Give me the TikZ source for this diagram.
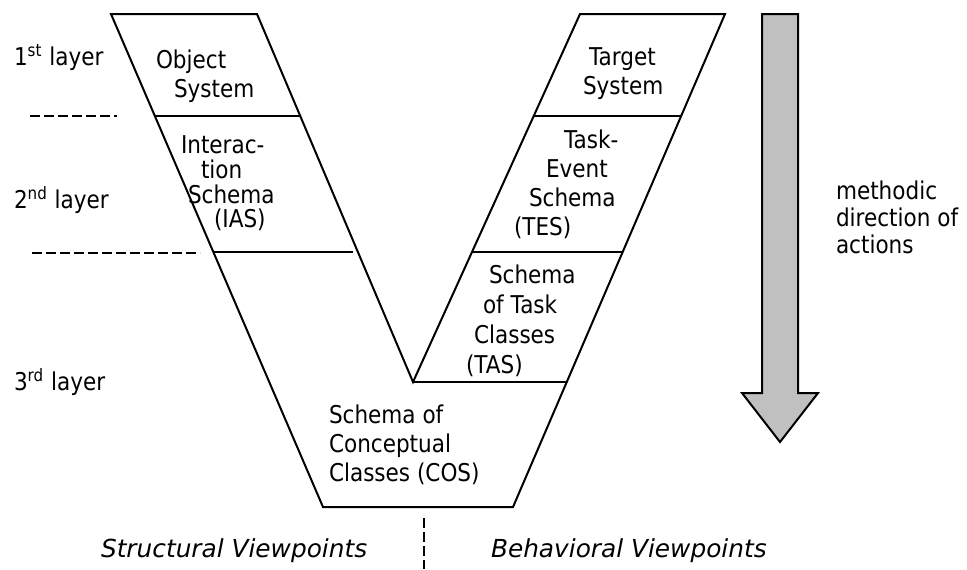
\documentclass[tikz,border=0pt]{standalone}
\usepackage{fontspec}
\setmainfont{DejaVu Sans}[FakeStretch=0.88]
\newfontfamily\viewfont{DejaVu Sans}
\definecolor{arrowfill}{HTML}{C0C0C0}

\begin{document}
\begin{tikzpicture}[x=0.5pt,y=-0.5pt,line width=1pt,
    lbl/.style={anchor=north west,inner sep=0pt,align=left,
        font=\fontsize{12.25}{14.5}\selectfont},
    layer/.style={anchor=base west,inner sep=0pt,font=\fontsize{12.25}{14.5}\selectfont},
    sep/.style={line width=0.9pt,dash pattern=on 5pt off 2pt},
    view/.style={anchor=west,inner sep=0pt,font=\viewfont\itshape\fontsize{12.4}{14}\selectfont}]
        \useasboundingbox (0,0) rectangle (967,569);

        % the V
        \draw (111,14) -- (257,14) -- (413,382) -- (580,14) -- (725,14)
              -- (513,507) -- (323,507) -- cycle;
        \draw (155,116) -- (300,116);
        \draw (213,252) -- (353,252);
        \draw (534,116) -- (681,116);
        \draw (472,252) -- (623,252);
        \draw (413,382) -- (567,382);

        % layers
        \draw[sep] (30,116) -- (117,116);
        \draw[sep] (32,253) -- (200,253);
        \path
        (13,65) node[layer](lay1) {1\textsuperscript{st} layer}
        (13,208) node[layer](lay2) {2\textsuperscript{nd} layer}
        (13,390) node[layer](lay3) {3\textsuperscript{rd} layer}

        % left
        (155,49) node[lbl](objsys) {Object\\\hspace*{9pt}System}
        (180,135) node[lbl,font=\fontsize{12.25}{12.35}\selectfont](ias)
            {Interac-\\\hspace*{10pt}tion\\\hspace*{3.5pt}Schema\\\hspace*{16.5pt}(IAS)}

        % right
        (582,47) node[lbl](tarsys) {\hspace*{3pt}Target\\System}
        (513,129) node[lbl](tes)
            {\hspace*{25pt}Task-\\\hspace*{16pt}Event\\\hspace*{7.5pt}Schema\\(TES)}
        (465,264) node[lbl,font=\fontsize{12.25}{15}\selectfont](tas)
            {\hspace*{11.5pt}Schema\\\hspace*{8.5pt}of Task\\\hspace*{4pt}Classes\\(TAS)}

        % bottom
        (328,404) node[lbl](cos) {Schema of\\Conceptual\\Classes (COS)}
        ;

        % direction
        \draw[fill=arrowfill] (762,14) -- (798,14) -- (798,393) -- (818,393)
              -- (780,442) -- (742,393) -- (762,393) -- cycle;
        \node[lbl,font=\fontsize{12.25}{13.5}\selectfont]
            (dir) at (835,180) {methodic\\direction of\\actions};

        % viewpoints
        \draw[sep] (424,518) -- (424,569);
        \node[view](struct) at (100,551) {Structural Viewpoints};
        \node[view](behav) at (490,551) {Behavioral Viewpoints};
      \end{tikzpicture}
\end{document}
